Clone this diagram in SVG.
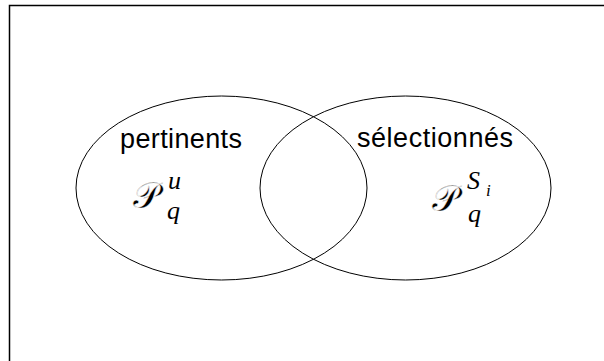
<svg xmlns="http://www.w3.org/2000/svg" width="604" height="361" viewBox="0 0 604 361">
<style>
.set{fill:none;stroke:#000;stroke-width:1}
.lbl{font-family:"Liberation Sans",Arial,sans-serif;font-size:27px;fill:#000}
.cal{font-family:"DejaVu Serif","Liberation Serif",serif;font-size:37px;fill:#000;stroke:#fff;stroke-width:0.5;paint-order:normal}
.it{font-family:"Liberation Serif",serif;font-style:italic;fill:#000}
</style>
<rect width="604" height="361" fill="#fff"/>
<path d="M9.5,361 V5.5 H604" fill="none" stroke="#000" stroke-width="1.5"/>
<g id="pertinents">
<ellipse class="set" cx="221.5" cy="188" rx="145.5" ry="92"/>
<text class="lbl" x="120" y="148" textLength="122">pertinents</text>
<text class="cal" x="133" y="208">𝒫</text>
<text class="it" x="168" y="189" font-size="26">u</text>
<text class="it" x="167" y="219" font-size="26">q</text>
</g>
<g id="selectionnes">
<ellipse class="set" cx="405.5" cy="188" rx="145.5" ry="92"/>
<text class="lbl" x="357" y="147" textLength="156">sélectionnés</text>
<text class="cal" x="432" y="211">𝒫</text>
<text class="it" x="467" y="189" font-size="26">S</text>
<text class="it" x="486" y="196" font-size="17">i</text>
<text class="it" x="468" y="222" font-size="26">q</text>
</g>
<g id="connectors"/>
</svg>
